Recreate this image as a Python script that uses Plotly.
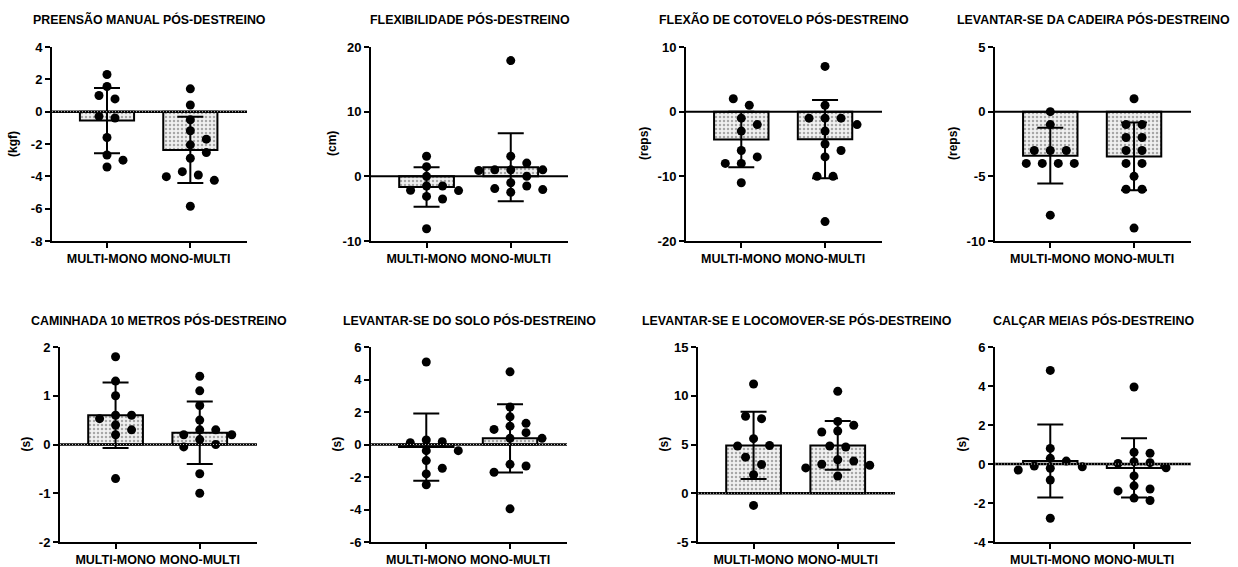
import numpy as np
import plotly.graph_objects as go

W, H = 1238, 567

groups = ["MULTI-MONO", "MONO-MULTI"]

titles = [
    "PREENSÃO MANUAL PÓS-DESTREINO",
    "FLEXIBILIDADE PÓS-DESTREINO",
    "FLEXÃO DE COTOVELO PÓS-DESTREINO",
    "LEVANTAR-SE DA CADEIRA PÓS-DESTREINO",
    "CAMINHADA 10 METROS PÓS-DESTREINO",
    "LEVANTAR-SE DO SOLO PÓS-DESTREINO",
    "LEVANTAR-SE E LOCOMOVER-SE PÓS-DESTREINO",
    "CALÇAR MEIAS PÓS-DESTREINO",
]
units = ["(kgf)", "(cm)", "(reps)", "(reps)", "(s)", "(s)", "(s)", "(s)"]

# individual values (MULTI-MONO, MONO-MULTI)
preensao_multi_mono = [2.3, 1.56, 1.0, 0.79, -0.29, -0.39, -1.6, -2.68, -3.0, -3.42]
preensao_mono_multi = [1.41, 0.41, -0.5, -1.18, -1.7, -2.05, -2.53, -2.88, -3.71, -3.92, -4.02, -4.25, -5.85]
flex_multi_mono = [3.1, 1.5, 0.0, -1.5, -1.5, -2.15, -2.2, -3.1, -3.5, -8.1]
flex_mono_multi = [17.9, 3.1, 2.05, 1.0, 1.0, 1.0, 0.9, 0.0, -1.0, -1.5, -1.9, -2.05, -2.46]
cotovelo_multi_mono = [2, 1, -1, -2, -3, -6, -7, -8, -8, -11]
cotovelo_mono_multi = [7, 1, -1, -1, -1, -2, -3, -5, -6, -7, -10, -10, -17]
cadeira_multi_mono = [0, -1, -3, -3, -3, -4, -4, -4, -4, -8]
cadeira_mono_multi = [1, -1, -1, -2, -2, -3, -3, -4, -4, -5, -6, -6, -9]
caminhada_multi_mono = [1.8, 1.3, 1.0, 0.6, 0.6, 0.53, 0.4, 0.3, 0.2, -0.7]
caminhada_mono_multi = [1.4, 1.1, 0.8, 0.5, 0.3, 0.3, 0.2, 0.2, 0.1, 0.0, -0.05, -0.6, -1.0]
solo_multi_mono = [5.08, 0.28, 0.17, 0.11, -0.38, -0.38, -0.99, -1.46, -1.81, -2.48]
solo_mono_multi = [4.47, 2.3, 1.7, 1.3, 1.13, 0.93, 0.73, 0.38, 0.38, -1.22, -1.32, -1.71, -3.96]
locomover_multi_mono = [11.2, 7.9, 7.65, 5.6, 4.9, 4.85, 3.7, 2.95, 1.9, -1.25]
locomover_mono_multi = [10.45, 7.37, 6.97, 6.38, 6.28, 4.85, 4.74, 3.44, 3.3, 2.97, 2.87, 2.6, 1.76]
meias_multi_mono = [4.8, 0.8, 0.29, 0.15, -0.1, -0.14, -0.22, -0.31, -0.82, -2.78]
meias_mono_multi = [3.95, 0.6, 0.55, 0.12, 0.07, 0.03, -0.19, -0.61, -1.12, -1.28, -1.38, -1.75, -1.87]

# bar means and SD
means = [[-0.55, -2.37], [-1.65, 1.4], [-4.3, -4.25], [-3.4, -3.46],
         [0.6, 0.24], [-0.16, 0.38], [4.9, 4.9], [0.15, -0.2]]
sds = [[2.02, 2.05], [3.05, 5.26], [4.3, 6.05], [2.15, 2.62],
       [0.67, 0.64], [2.07, 2.1], [3.45, 2.5], [1.87, 1.52]]

ytickvals = [
    [-8, -6, -4, -2, 0, 2, 4],
    [-10, 0, 10, 20],
    [-20, -10, 0, 10],
    [-10, -5, 0, 5],
    [-2, -1, 0, 1, 2],
    [-6, -4, -2, 0, 2, 4, 6],
    [-5, 0, 5, 10, 15],
    [-4, -2, 0, 2, 4, 6],
]

points = [
    (preensao_multi_mono, preensao_mono_multi),
    (flex_multi_mono, flex_mono_multi),
    (cotovelo_multi_mono, cotovelo_mono_multi),
    (cadeira_multi_mono, cadeira_mono_multi),
    (caminhada_multi_mono, caminhada_mono_multi),
    (solo_multi_mono, solo_mono_multi),
    (locomover_multi_mono, locomover_mono_multi),
    (meias_multi_mono, meias_mono_multi),
]

# ---- layout geometry (pixels: left, right, top, bottom)
boxes = [
    (52, 247, 47, 241), (371, 568, 47, 241), (686, 882, 47, 241), (995, 1191, 47, 241),
    (60, 257, 347, 542), (371, 567, 347, 542), (698, 895, 347, 542), (995, 1191, 347, 542),
]
XR = [-0.66, 1.68]
dotted_zero = [True, False, False, False, True, True, True, True]
ytitle_shift = [-39, -39, -42, -42, -35, -35, -35, -34]

FONT = "Arial, Liberation Sans, Helvetica, sans-serif"


def swarm(vals, ppu_y, s_px=16.0, D=9.0):
    vals = np.asarray(vals, dtype=float)
    ypx = vals * ppu_y
    order = np.argsort(-vals, kind="stable")
    slots_try = [0, 1, -1, 2, -2, 3, -3, 4, -4]
    slot = np.zeros(len(vals))
    placed = []
    for i in order:
        for k in slots_try:
            if all(not (sl == k and abs(py - ypx[i]) < D) for py, sl in placed):
                break
        placed.append((ypx[i], k))
        slot[i] = k
    # center isolated rows
    srt = list(order)
    j = 0
    while j < len(srt):
        grp = [srt[j]]
        m = j + 1
        while m < len(srt) and abs(ypx[srt[m]] - ypx[srt[j]]) < D:
            grp.append(srt[m])
            m += 1
        if len(grp) > 1:
            others = [o for o in srt if o not in grp]
            iso = all(abs(ypx[o] - ypx[g]) >= D for o in others for g in grp)
            if iso:
                mean_slot = np.mean([slot[g] for g in grp])
                for g in grp:
                    slot[g] -= mean_slot
        j = m
    return slot * s_px


fig = go.Figure()
layout = dict(
    width=W, height=H, margin=dict(l=0, r=0, t=0, b=0, pad=0), autosize=False,
    paper_bgcolor="white", plot_bgcolor="white", showlegend=False,
    font=dict(family=FONT, color="black"),
)
shapes = []
annotations = []

for i in range(8):
    n = i + 1
    xs = "x" if n == 1 else f"x{n}"
    ys = "y" if n == 1 else f"y{n}"
    xa = "xaxis" if n == 1 else f"xaxis{n}"
    ya = "yaxis" if n == 1 else f"yaxis{n}"
    l, r, t, b = boxes[i]
    yr = [ytickvals[i][0], ytickvals[i][-1]]
    ppu_y = (b - t) / (yr[1] - yr[0])
    ppu_x = (r - l) / (XR[1] - XR[0])

    fig.add_trace(go.Bar(
        x=[0, 1], y=means[i], width=0.65, xaxis=xs, yaxis=ys,
        marker=dict(
            color="#f0f0f0",
            line=dict(color="black", width=2),
            pattern=dict(shape=".", fgcolor="#5e5e5e", bgcolor="#f0f0f0", size=4, solidity=0.3),
        ),
        error_y=dict(type="data", array=sds[i], symmetric=True, color="black", thickness=2, width=13),
        hoverinfo="skip",
    ))
    for g in range(2):
        vals = points[i][g]
        off = swarm(vals, ppu_y) / ppu_x
        fig.add_trace(go.Scatter(
            x=g + off, y=vals, mode="markers", xaxis=xs, yaxis=ys,
            marker=dict(color="black", size=9),
            hoverinfo="skip",
        ))

    tick_style = dict(
        showline=True, linecolor="black", linewidth=2, ticks="outside", ticklen=5,
        tickwidth=2, tickcolor="black", showgrid=False, zeroline=False, automargin=False,
    )
    layout[xa] = dict(
        domain=[l / W, r / W], range=XR, anchor=ys, tickvals=[0, 1], ticktext=groups,
        tickfont=dict(size=12.5, weight="bold", family=FONT, color="black"), **tick_style,
    )
    layout[ya] = dict(
        domain=[1 - b / H, 1 - t / H], range=yr, anchor=xs, tickvals=ytickvals[i],
        ticktext=[str(v) for v in ytickvals[i]],
        tickfont=dict(size=13, weight="bold", family=FONT, color="black"), **tick_style,
    )

    shapes.append(dict(type="line", xref=f"{xs} domain", yref=ys, x0=0, x1=1, y0=0, y1=0,
                       line=dict(color="black", width=2.5 if dotted_zero[i] else 2), layer="above"))
    if dotted_zero[i]:
        shapes.append(dict(type="line", xref=f"{xs} domain", yref=ys, x0=0, x1=1, y0=0, y1=0,
                           line=dict(color="#bdbdbd", width=1, dash="1px,2px"), layer="above"))

    ty = 19 if i < 4 else 320
    annotations.append(dict(
        text=titles[i], xref="paper", yref="paper", x=(l + r) / 2 / W, y=1 - ty / H,
        xanchor="center", yanchor="middle", showarrow=False,
        font=dict(size=12.4, weight="bold", family=FONT, color="black"),
    ))
    annotations.append(dict(
        text=units[i], xref="paper", yref="paper", x=l / W, y=1 - (t + b) / 2 / H,
        xshift=ytitle_shift[i], xanchor="center", yanchor="middle", textangle=-90, showarrow=False,
        font=dict(size=12, weight="bold", family=FONT, color="black"),
    ))

layout["shapes"] = shapes
layout["annotations"] = annotations
fig.update_layout(**layout)
fig.write_html(
    "out.html",
    config={"responsive": False, "displayModeBar": False},
    post_script="document.body.style.margin='0';document.body.style.overflow='hidden';",
)
